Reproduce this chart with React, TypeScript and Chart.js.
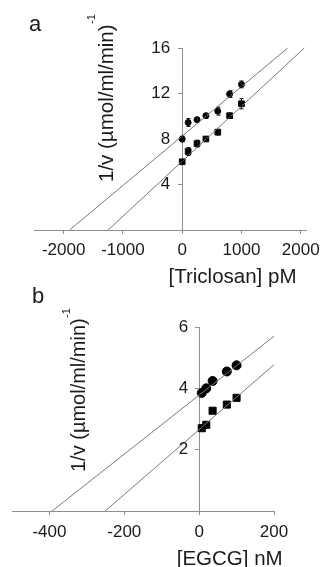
import React, { useEffect, useRef } from "react";
import { Chart, registerables } from "chart.js";

Chart.register(...registerables);

const FONT = '"Liberation Sans", Arial, Helvetica, sans-serif';

// ---------- Panel a: Triclosan ----------
const triclosanX = [0, 100, 250, 400, 600, 800, 1000];
const triclosanUpper = [8.0, 9.45, 9.7, 10.05, 10.45, 11.95, 12.8];
const triclosanUpperErr = [0.25, 0.35, 0.2, 0.2, 0.35, 0.3, 0.3];
const triclosanLower = [6.0, 6.9, 7.6, 8.0, 8.6, 10.05, 11.1];
const triclosanLowerErr = [0.2, 0.35, 0.3, 0.2, 0.25, 0.2, 0.45];
const triclosanFitUpperX = [-1900, 1780];
const triclosanFitUpperY = [0, 16];
const triclosanFitLowerX = [-1250, 2060];
const triclosanFitLowerY = [0, 16];
const triclosanXTicks = [-2000, -1000, 0, 1000, 2000];
const triclosanYTicks = [4, 8, 12, 16];

// ---------- Panel b: EGCG ----------
const egcgX = [7, 19, 36, 74, 100];
const egcgUpper = [3.85, 4.0, 4.24, 4.55, 4.75];
const egcgLower = [2.7, 2.81, 3.27, 3.47, 3.69];
const egcgFitUpperX = [-393, 200];
const egcgFitUpperY = [0, 5.7];
const egcgFitLowerX = [-251, 200];
const egcgFitLowerY = [0, 4.77];
const egcgXTicks = [-400, -200, 0, 200];
const egcgYTicks = [2, 4, 6];

const Y_TITLE = "1/v (\u00B5mol/ml/min)";
const Y_SUP = "-1";

type PanelCfg = {
  top: number;
  width: number;
  height: number;
  letter: string;
  xTitle: string;
  xs: number[];
  upper: number[];
  lower: number[];
  upperErr: number[] | null;
  lowerErr: number[] | null;
  fitUX: number[];
  fitUY: number[];
  fitLX: number[];
  fitLY: number[];
  xMin: number;
  xMax: number;
  yMax: number;
  xTicks: number[];
  yTicks: number[];
  pad: { left: number; right: number; top: number; bottom: number };
  circleR: number;
  rectR: number;
  xTickPad: number;
  yLabelGap: number;
  letterPos: [number, number, number];
  xTitlePos: [number, number, number];
  yTitlePos: [number, number, number];
  ySupPos: [number, number, number];
};

const X_AXIS_BOX = 40;

const panelA: PanelCfg = {
  top: 0,
  width: 326,
  height: 300,
  letter: "a",
  xTitle: "[Triclosan] pM",
  xs: triclosanX,
  upper: triclosanUpper,
  lower: triclosanLower,
  upperErr: triclosanUpperErr,
  lowerErr: triclosanLowerErr,
  fitUX: triclosanFitUpperX,
  fitUY: triclosanFitUpperY,
  fitLX: triclosanFitLowerX,
  fitLY: triclosanFitLowerY,
  xMin: -2500,
  xMax: 2100,
  yMax: 16,
  xTicks: triclosanXTicks,
  yTicks: triclosanYTicks,
  pad: { left: 34, right: 15, top: 48, bottom: 300 - 230 - X_AXIS_BOX },
  circleR: 3,
  rectR: 4,
  xTickPad: 6,
  yLabelGap: 12,
  letterPos: [29, 31, 22],
  xTitlePos: [232.5, 283, 20.5],
  yTitlePos: [113, 182, 20.5],
  ySupPos: [95, 24, 11],
};

const panelB: PanelCfg = {
  top: 280,
  width: 326,
  height: 287,
  letter: "b",
  xTitle: "[EGCG] nM",
  xs: egcgX,
  upper: egcgUpper,
  lower: egcgLower,
  upperErr: null,
  lowerErr: null,
  fitUX: egcgFitUpperX,
  fitUY: egcgFitUpperY,
  fitLX: egcgFitLowerX,
  fitLY: egcgFitLowerY,
  xMin: -500,
  xMax: 200,
  yMax: 6,
  xTicks: egcgXTicks,
  yTicks: egcgYTicks,
  pad: { left: 12, right: 52, top: 47, bottom: 287 - 231 - X_AXIS_BOX },
  circleR: 4.5,
  rectR: 5,
  xTickPad: 7,
  yLabelGap: 11,
  letterPos: [32, 23, 22],
  xTitlePos: [229.7, 285, 20.5],
  yTitlePos: [85, 192, 20],
  ySupPos: [70, 38, 11],
};

const AXIS_COLOR = "#8f8f8f";
const FIT_COLOR = "#7a7a7a";
const TEXT_COLOR = "#1a1a1a";

function Panel({ cfg }: { cfg: PanelCfg }) {
  const ref = useRef<HTMLCanvasElement>(null);

  useEffect(() => {
    const canvas = ref.current;
    if (!canvas) return;

    const errPlugin = {
      id: "errBars",
      afterDatasetsDraw(chart: any) {
        const ctx = chart.ctx;
        const xs = chart.scales.x;
        const ys = chart.scales.y;
        ctx.save();
        ctx.strokeStyle = "#111";
        ctx.lineWidth = 1;
        const series: [number[], number[] | null][] = [
          [cfg.upper, cfg.upperErr],
          [cfg.lower, cfg.lowerErr],
        ];
        series.forEach(([vals, errs]) => {
          if (!errs) return;
          vals.forEach((v, i) => {
            const px = Math.round(xs.getPixelForValue(cfg.xs[i])) + 0.5;
            const y1 = ys.getPixelForValue(v + errs[i]);
            const y2 = ys.getPixelForValue(v - errs[i]);
            ctx.beginPath();
            ctx.moveTo(px, y1);
            ctx.lineTo(px, y2);
            ctx.moveTo(px - 2, y1);
            ctx.lineTo(px + 2, y1);
            ctx.moveTo(px - 2, y2);
            ctx.lineTo(px + 2, y2);
            ctx.stroke();
          });
        });
        ctx.restore();
      },
    };

    const textPlugin = {
      id: "panelText",
      afterDraw(chart: any) {
        const ctx = chart.ctx;
        const xScale = chart.scales.x;
        const yScale = chart.scales.y;
        ctx.save();
        ctx.fillStyle = TEXT_COLOR;
        // y tick labels, placed beside the y axis at x = 0
        const axisX = xScale.getPixelForValue(0);
        ctx.font = `17px ${FONT}`;
        ctx.textAlign = "right";
        ctx.textBaseline = "middle";
        cfg.yTicks.forEach((v) => {
          ctx.fillText(String(v), axisX - cfg.yLabelGap, yScale.getPixelForValue(v));
        });
        ctx.textBaseline = "alphabetic";
        // panel letter
        ctx.textAlign = "left";
        ctx.font = `${cfg.letterPos[2]}px ${FONT}`;
        ctx.fillText(cfg.letter, cfg.letterPos[0], cfg.letterPos[1]);
        // x title
        ctx.textAlign = "center";
        ctx.font = `${cfg.xTitlePos[2]}px ${FONT}`;
        ctx.fillText(cfg.xTitle, cfg.xTitlePos[0], cfg.xTitlePos[1]);
        // y title (rotated)
        ctx.textAlign = "left";
        ctx.save();
        ctx.translate(cfg.yTitlePos[0], cfg.yTitlePos[1]);
        ctx.rotate(-Math.PI / 2);
        ctx.font = `${cfg.yTitlePos[2]}px ${FONT}`;
        ctx.fillText(Y_TITLE, 0, 0);
        ctx.restore();
        ctx.save();
        ctx.translate(cfg.ySupPos[0], cfg.ySupPos[1]);
        ctx.rotate(-Math.PI / 2);
        ctx.font = `${cfg.ySupPos[2]}px ${FONT}`;
        ctx.fillText(Y_SUP, 0, 0);
        ctx.restore();
        ctx.restore();
      },
    };

    const toPts = (xs: number[], ys: number[]) => xs.map((x, i) => ({ x, y: ys[i] }));

    const chart = new Chart(canvas, {
      type: "scatter",
      data: {
        datasets: [
          {
            type: "line",
            data: toPts(cfg.fitUX, cfg.fitUY),
            borderColor: FIT_COLOR,
            borderWidth: 1,
            pointRadius: 0,
            fill: false,
            clip: false,
          } as any,
          {
            type: "line",
            data: toPts(cfg.fitLX, cfg.fitLY),
            borderColor: FIT_COLOR,
            borderWidth: 1,
            pointRadius: 0,
            fill: false,
            clip: false,
          } as any,
          {
            data: toPts(cfg.xs, cfg.upper),
            pointStyle: "circle",
            pointRadius: cfg.circleR,
            backgroundColor: "#000",
            borderColor: "#000",
            borderWidth: 1,
          },
          {
            data: toPts(cfg.xs, cfg.lower),
            pointStyle: "rect",
            pointRadius: cfg.rectR,
            backgroundColor: "#000",
            borderColor: "#000",
            borderWidth: 1,
          },
        ],
      },
      options: {
        responsive: false,
        animation: false,
        events: [],
        layout: { padding: cfg.pad },
        plugins: {
          legend: { display: false },
          tooltip: { enabled: false },
        },
        scales: {
          x: {
            type: "linear",
            position: "bottom",
            min: cfg.xMin,
            max: cfg.xMax,
            afterBuildTicks: (s: any) => {
              s.ticks = cfg.xTicks.map((v) => ({ value: v }));
            },
            afterFit: (s: any) => {
              s.height = X_AXIS_BOX;
            },
            grid: {
              drawOnChartArea: false,
              drawTicks: true,
              tickLength: 4,
              color: AXIS_COLOR,
            },
            border: { display: true, color: AXIS_COLOR, width: 1 },
            ticks: {
              font: { family: FONT, size: 17 },
              color: TEXT_COLOR,
              padding: cfg.xTickPad,
              maxRotation: 0,
              autoSkip: false,
              callback: (v: any) => String(v),
            },
          },
          y: {
            type: "linear",
            position: { x: 0 } as any,
            min: 0,
            max: cfg.yMax,
            afterBuildTicks: (s: any) => {
              s.ticks = cfg.yTicks.map((v) => ({ value: v }));
            },
            afterFit: (s: any) => {
              s.width = 0;
            },
            grid: {
              drawOnChartArea: false,
              drawTicks: true,
              tickLength: 4,
              color: AXIS_COLOR,
            },
            border: { display: true, color: AXIS_COLOR, width: 1 },
            ticks: { display: false },
          },
        },
      },
      plugins: [errPlugin, textPlugin],
    } as any);

    return () => chart.destroy();
  }, [cfg]);

  return (
    <canvas
      ref={ref}
      width={cfg.width}
      height={cfg.height}
      style={{
        position: "absolute",
        left: 0,
        top: cfg.top,
        width: cfg.width,
        height: cfg.height,
        display: "block",
      }}
    />
  );
}

export default function App() {
  return (
    <div
      style={{
        position: "absolute",
        left: 0,
        top: 0,
        width: 326,
        height: 567,
        background: "#fff",
        overflow: "hidden",
      }}
    >
      <Panel cfg={panelA} />
      <Panel cfg={panelB} />
    </div>
  );
}
